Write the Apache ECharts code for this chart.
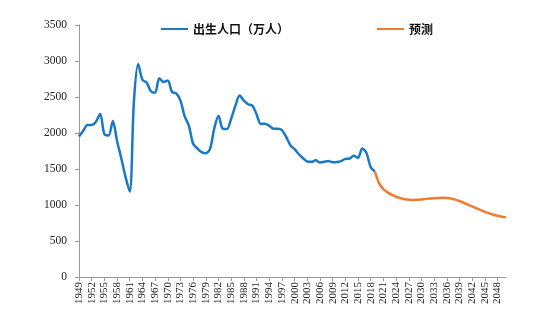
<!DOCTYPE html>
<html><head><meta charset="utf-8">
<script src="https://cdn.jsdelivr.net/npm/echarts@6/dist/echarts.min.js"></script>
<style>html,body{margin:0;padding:0;background:#fff}#c{width:550px;height:331px}</style>
</head><body><div id="c"></div>
<script>
var years = [];
for (var y = 1949; y <= 2050; y++) years.push(String(y));

var births = [1950,2030,2110,2110,2155,2265,1985,1965,2165,1890,1650,1390,1188,2450,2960,2740,2700,2580,2560,2760,2710,2730,2570,2550,2450,2230,2100,1850,1785,1735,1720,1780,2065,2240,2060,2055,2200,2380,2520,2450,2400,2380,2260,2125,2130,2100,2060,2060,2040,1945,1830,1775,1705,1650,1605,1600,1620,1590,1600,1610,1595,1598,1610,1640,1645,1685,1655,1786,1723,1523,1465];

var forecastStart = 2019;
var forecast = [1465,1300,1220,1175,1140,1115,1095,1080,1072,1070,1072,1078,1085,1090,1095,1098,1100,1098,1090,1075,1055,1030,1005,980,955,930,905,885,865,850,838,830];

var yTicks = [0,500,1000,1500,2000,2500,3000,3500];

var blueData = years.map(function(_, i){ return i < births.length ? births[i] : null; });
var orangeData = years.map(function(y){ var k = +y - forecastStart; return (k >= 0 && k < forecast.length) ? forecast[k] : null; });

var chart = echarts.init(document.getElementById('c'));
chart.setOption({
  animation: false,
  backgroundColor: '#fff',
  grid: {left: 79, right: 44, top: 25, bottom: 54},
  legend: {
    top: 18, left: 156, itemGap: 88, itemWidth: 27, itemHeight: 2,
    icon: 'rect',
    textStyle: {fontFamily: 'Noto Sans CJK SC', fontWeight: 'bold', fontSize: 12, color: '#111'},
    data: ['出生人口（万人）', '预测']
  },
  xAxis: {
    type: 'category', data: years, boundaryGap: false,
    axisLine: {lineStyle: {color: '#999', width: 1}},
    axisTick: {interval: 2, length: 4, lineStyle: {color: '#999'}},
    axisLabel: {interval: 2, rotate: 90, margin: 5, fontFamily: 'Liberation Serif', fontSize: 11, color: '#222'}
  },
  yAxis: {
    type: 'value', min: 0, max: 3500, interval: 500,
    axisLine: {show: true, lineStyle: {color: '#999', width: 1}},
    axisTick: {show: true, length: 4, lineStyle: {color: '#999'}},
    splitLine: {show: false},
    axisLabel: {margin: 12, fontFamily: 'Liberation Serif', fontSize: 11.5, color: '#222',
      formatter: function(v){ return yTicks.indexOf(v) >= 0 ? String(v) : ''; }}
  },
  series: [
    {name: '出生人口（万人）', type: 'line', data: blueData, smooth: 0.3, showSymbol: false,
     itemStyle: {color: '#1A78C8'}, lineStyle: {color: '#1A78C8', width: 2.5}},
    {name: '预测', type: 'line', data: orangeData, smooth: 0.3, showSymbol: false,
     itemStyle: {color: '#ED7D31'}, lineStyle: {color: '#ED7D31', width: 2.5}}
  ]
});
</script></body></html>
